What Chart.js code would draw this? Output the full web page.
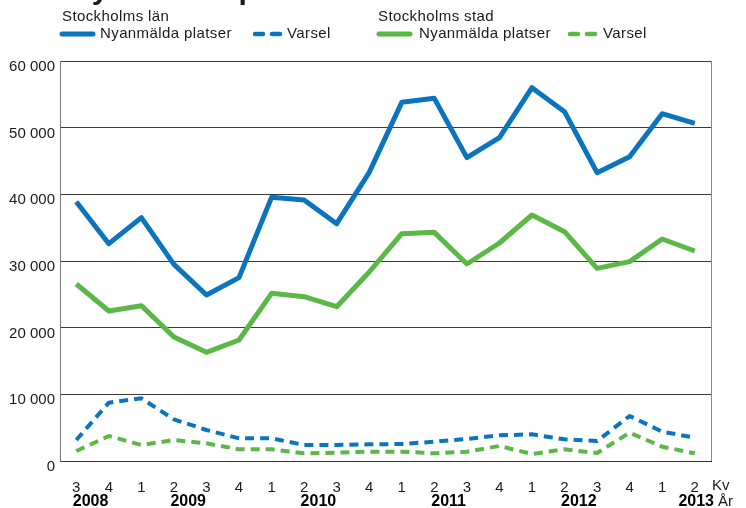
<!DOCTYPE html>
<html>
<head>
<meta charset="utf-8">
<script src="https://cdn.jsdelivr.net/npm/chart.js@4.4.1/dist/chart.umd.min.js"></script>
<style>
  html, body { margin: 0; padding: 0; background: #ffffff; }
  #wrap { width: 746px; height: 508px; }
</style>
</head>
<body>
<div id="wrap"><canvas id="c" width="746" height="508"></canvas></div>
<script>
// ---- data ----
const titleText = 'Nyanmälda platser och varsel';
const quarters = ['3','4','1','2','3','4','1','2','3','4','1','2','3','4','1','2','3','4','1','2'];
const years    = ['2008','2008','2009','2009','2009','2009','2010','2010','2010','2010','2011','2011','2011','2011','2012','2012','2012','2012','2013','2013'];
const yTicks   = [0, 10000, 20000, 30000, 40000, 50000, 60000];
const lanPlatser  = [38900, 32600, 36500, 29500, 24900, 27500, 39550, 39150, 35600, 43300, 53800, 54400, 45500, 48500, 56000, 52400, 43250, 45650, 52100, 50650];
const stadPlatser = [26550, 22500, 23300, 18600, 16300, 18150, 25150, 24650, 23150, 28350, 34100, 34300, 29550, 32700, 36900, 34400, 28900, 29900, 33300, 31500];
const lanVarsel   = [3150, 8750, 9400, 6250, 4650, 3400, 3400, 2400, 2400, 2500, 2550, 2900, 3300, 3850, 4000, 3250, 3000, 6750, 4400, 3500];
const stadVarsel  = [1500, 3750, 2400, 3150, 2650, 1750, 1750, 1150, 1250, 1400, 1400, 1150, 1400, 2250, 1050, 1750, 1200, 4250, 2150, 1150];
const groupNames = ['Stockholms län', 'Stockholms stad'];
const seriesNames = ['Nyanmälda platser', 'Varsel'];
const axisUnitX = 'Kv';
const axisUnitYear = 'År';

// ---- style ----
const FONT = '"Liberation Sans", Arial, sans-serif';
const BLUE = '#0a74bf';
const GREEN = '#5bb847';
const TEXT = '#1a1a1a';

function fmt(v) {
  return String(v).replace(/\B(?=(\d{3})+(?!\d))/g, ' ');
}

const decor = {
  id: 'decor',
  afterDraw(chart) {
    const ctx = chart.ctx;
    const a = chart.chartArea;
    const xs = chart.scales.x;
    ctx.save();
    // right border of plot
    ctx.strokeStyle = '#888';
    ctx.lineWidth = 1;
    const rx = Math.round(a.right) + 0.5;
    ctx.beginPath(); ctx.moveTo(rx, a.top); ctx.lineTo(rx, a.bottom); ctx.stroke();

    // cut-off title (only descenders visible)
    ctx.fillStyle = TEXT;
    ctx.font = 'bold 30px ' + FONT;
    ctx.textAlign = 'left';
    ctx.textBaseline = 'alphabetic';
    ctx.fillText(titleText, 70, -1);

    // legend
    ctx.font = '15px ' + FONT;
    ctx.textBaseline = 'middle';
    ctx.fillStyle = TEXT;
    try { ctx.letterSpacing = '0.4px'; } catch (e) {}
    const groups = [
      { x: 62, color: BLUE, name: groupNames[0], sol: [62, 93], txt1: 100, dash: [255, 280], txt2: 287 },
      { x: 378, color: GREEN, name: groupNames[1], sol: [379, 410], txt1: 419, dash: [570, 595], txt2: 603 }
    ];
    groups.forEach(g => {
      ctx.fillStyle = TEXT;
      ctx.fillText(g.name, g.x, 17);
      ctx.strokeStyle = g.color;
      ctx.lineCap = 'round';
      ctx.lineWidth = 5;
      ctx.setLineDash([]);
      ctx.beginPath(); ctx.moveTo(g.sol[0], 34); ctx.lineTo(g.sol[1], 34); ctx.stroke();
      ctx.fillText(seriesNames[0], g.txt1, 34);
      ctx.lineWidth = 4.5;
      ctx.beginPath(); ctx.moveTo(g.dash[0], 34); ctx.lineTo(g.dash[0] + 8, 34); ctx.stroke();
      ctx.beginPath(); ctx.moveTo(g.dash[1] - 8, 34); ctx.lineTo(g.dash[1], 34); ctx.stroke();
      ctx.fillStyle = TEXT;
      ctx.fillText(seriesNames[1], g.txt2, 34);
    });
    try { ctx.letterSpacing = '0px'; } catch (e) {}

    // year labels
    ctx.font = 'bold 16px ' + FONT;
    ctx.fillStyle = '#000';
    ctx.textBaseline = 'middle';
    const uniq = [...new Set(years)];
    uniq.forEach((yr, k) => {
      const idx = years.map((v, i) => v === yr ? i : -1).filter(i => i >= 0);
      if (k === uniq.length - 1) {
        ctx.textAlign = 'right';
        ctx.fillText(yr, a.right + 3, 502);
      } else {
        const px = idx.reduce((s, i) => s + xs.getPixelForValue(i), 0) / idx.length;
        ctx.textAlign = 'center';
        ctx.fillText(yr, px - 2, 502);
      }
    });
    ctx.font = '15px ' + FONT;
    ctx.fillStyle = TEXT;
    ctx.textAlign = 'left';
    ctx.fillText(axisUnitX, a.right + 1, 486);
    ctx.fillText(axisUnitYear, a.right + 7, 502);
    ctx.restore();
  }
};

const common = { pointRadius: 0, tension: 0, fill: false, borderJoinStyle: 'round' };

new Chart(document.getElementById('c'), {
  type: 'line',
  data: {
    labels: quarters,
    datasets: [
      Object.assign({ label: groupNames[0] + ' ' + seriesNames[0], data: lanPlatser, borderColor: BLUE, borderWidth: 5 }, common),
      Object.assign({ label: groupNames[0] + ' ' + seriesNames[1], data: lanVarsel, borderColor: BLUE, borderWidth: 4, borderDash: [9, 6] }, common),
      Object.assign({ label: groupNames[1] + ' ' + seriesNames[0], data: stadPlatser, borderColor: GREEN, borderWidth: 5 }, common),
      Object.assign({ label: groupNames[1] + ' ' + seriesNames[1], data: stadVarsel, borderColor: GREEN, borderWidth: 4, borderDash: [9, 6] }, common)
    ]
  },
  options: {
    responsive: false,
    animation: false,
    devicePixelRatio: 1,
    layout: { padding: { left: 0, right: 35, top: 61, bottom: 0 } },
    plugins: { legend: { display: false }, tooltip: { enabled: false }, title: { display: false } },
    scales: {
      x: {
        offset: true,
        grid: { display: false, drawTicks: false },
        border: { display: true, color: '#333', width: 1 },
        ticks: { color: TEXT, font: { size: 15, family: FONT }, padding: 18, maxRotation: 0, autoSkip: false },
        afterFit(s) { s.height = 47; }
      },
      y: {
        min: yTicks[0],
        max: yTicks[yTicks.length - 1],
        afterBuildTicks(s) { s.ticks = yTicks.map(v => ({ value: v })); },
        ticks: { color: TEXT, font: { size: 15, family: FONT }, padding: 5, labelOffset: 6, callback: v => fmt(v) },
        grid: { color: '#3a3a3a', lineWidth: 1, drawTicks: false },
        border: { display: true, color: '#777', width: 1 },
        afterFit(s) { s.width = 60; }
      }
    }
  },
  plugins: [decor]
});
</script>
</body>
</html>
